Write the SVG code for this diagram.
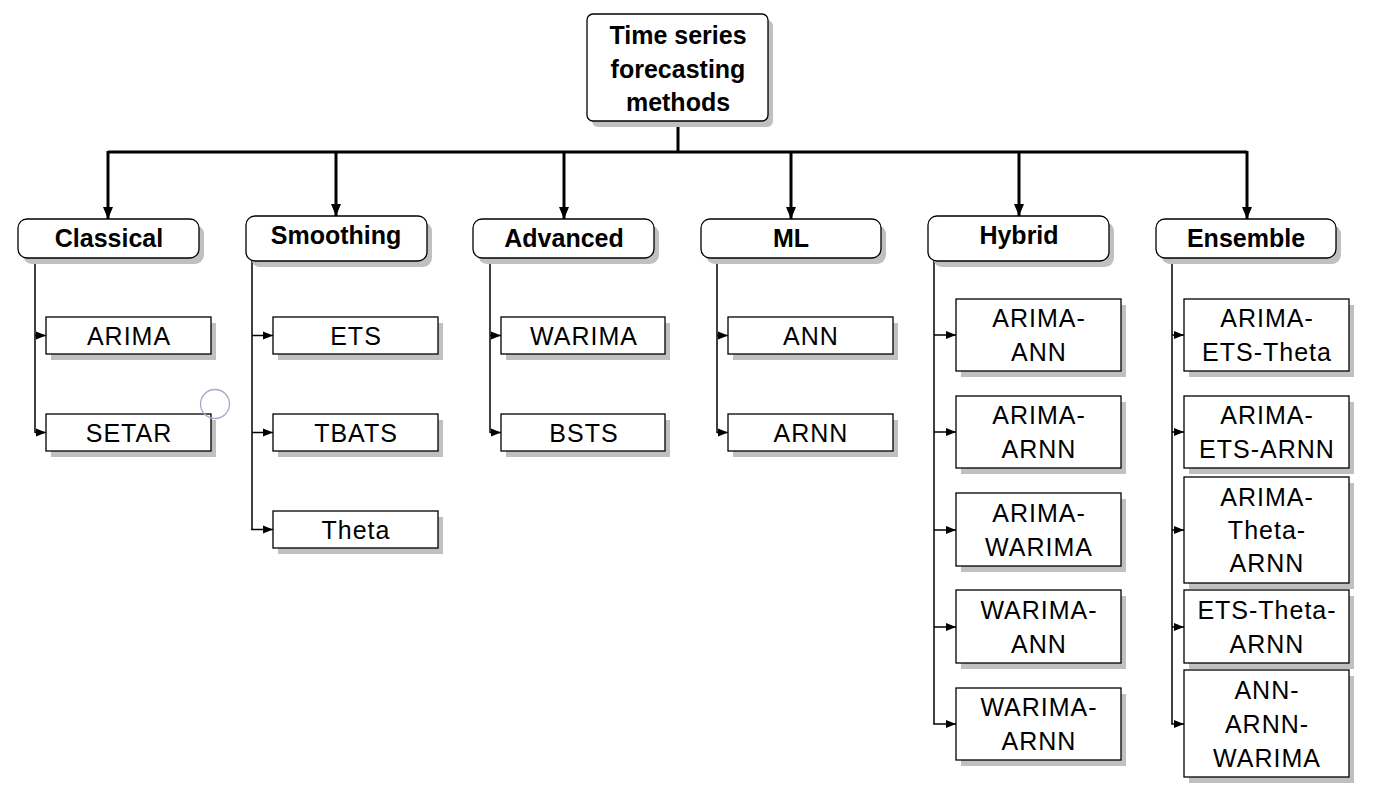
<svg xmlns="http://www.w3.org/2000/svg" width="1381" height="799" viewBox="0 0 1381 799">
<defs>
<style>
.sh{fill:#c0c0c0;stroke:none}
.bx{fill:#fff;stroke:#000;stroke-width:1.3}
.hd{font-family:"Liberation Sans","DejaVu Sans",sans-serif;font-weight:bold;font-size:25px;text-anchor:middle;fill:#000}
.lf{font-family:"Liberation Sans","DejaVu Sans",sans-serif;font-size:25px;letter-spacing:1px;text-anchor:middle;fill:#000}
.tr{stroke:#000;stroke-width:3;fill:none}
.br{stroke:#000;stroke-width:1.5;fill:none}
</style>
<marker id="big" markerUnits="userSpaceOnUse" markerWidth="12" markerHeight="12" refX="12" refY="6" orient="auto">
<path d="M0,1 L12,6 L0,11 Z" fill="#000"/>
</marker>
<marker id="sm" markerUnits="userSpaceOnUse" markerWidth="10" markerHeight="10" refX="10" refY="5" orient="auto">
<path d="M0,1 L10,5 L0,9 Z" fill="#000"/>
</marker>
</defs>
<rect width="1381" height="799" fill="#fff"/>

<g id="connectors">
<path class="tr" d="M678,121 V152 M108,152 H1247"/>
<path class="tr" d="M108,151 V219" marker-end="url(#big)"/>
<path class="tr" d="M336,151 V216" marker-end="url(#big)"/>
<path class="tr" d="M564,151 V219" marker-end="url(#big)"/>
<path class="tr" d="M791,151 V219" marker-end="url(#big)"/>
<path class="tr" d="M1019,151 V216" marker-end="url(#big)"/>
<path class="tr" d="M1247,151 V219" marker-end="url(#big)"/>
<path class="br" d="M35,258 V433"/>
<path class="br" d="M35,335.5 H46" marker-end="url(#sm)"/>
<path class="br" d="M35,432.5 H46" marker-end="url(#sm)"/>
<path class="br" d="M252,261 V530"/>
<path class="br" d="M252,335.5 H273" marker-end="url(#sm)"/>
<path class="br" d="M252,432.5 H273" marker-end="url(#sm)"/>
<path class="br" d="M251.3,529.5 H273" marker-end="url(#sm)"/>
<path class="br" d="M490,258 V433"/>
<path class="br" d="M490,335.5 H501" marker-end="url(#sm)"/>
<path class="br" d="M490,432.5 H501" marker-end="url(#sm)"/>
<path class="br" d="M717,258 V433"/>
<path class="br" d="M717,335.5 H728" marker-end="url(#sm)"/>
<path class="br" d="M717,432.5 H728" marker-end="url(#sm)"/>
<path class="br" d="M934,261 V724"/>
<path class="br" d="M934,335 H956" marker-end="url(#sm)"/>
<path class="br" d="M934,432 H956" marker-end="url(#sm)"/>
<path class="br" d="M934,530 H956" marker-end="url(#sm)"/>
<path class="br" d="M934,627 H956" marker-end="url(#sm)"/>
<path class="br" d="M933.3,724 H956" marker-end="url(#sm)"/>
<path class="br" d="M1172,258 V724"/>
<path class="br" d="M1172,335 H1184" marker-end="url(#sm)"/>
<path class="br" d="M1172,432 H1184" marker-end="url(#sm)"/>
<path class="br" d="M1172,530 H1184" marker-end="url(#sm)"/>
<path class="br" d="M1172,627 H1184" marker-end="url(#sm)"/>
<path class="br" d="M1171.3,724 H1184" marker-end="url(#sm)"/>
</g>

<g id="root">
<rect class="sh" x="592" y="20" width="181" height="107" rx="6"/>
<rect class="bx" x="587" y="14" width="181" height="107" rx="6"/>
<text class="hd" x="678" y="44">Time series</text>
<text class="hd" x="678" y="78">forecasting</text>
<text class="hd" x="678" y="111">methods</text>
</g>

<g id="h-classical">
<rect class="sh" x="23" y="225" width="181" height="39" rx="9"/>
<rect class="bx" x="18" y="219" width="181" height="39" rx="9"/>
<text class="hd" x="109" y="247">Classical</text>
</g>
<g id="h-smoothing">
<rect class="sh" x="251" y="222" width="181" height="45" rx="9"/>
<rect class="bx" x="246" y="216" width="181" height="45" rx="9"/>
<text class="hd" x="336" y="244">Smoothing</text>
</g>
<g id="h-advanced">
<rect class="sh" x="478" y="225" width="181" height="39" rx="9"/>
<rect class="bx" x="473" y="219" width="181" height="39" rx="9"/>
<text class="hd" x="564" y="247">Advanced</text>
</g>
<g id="h-ml">
<rect class="sh" x="706" y="225" width="180" height="39" rx="9"/>
<rect class="bx" x="701" y="219" width="180" height="39" rx="9"/>
<text class="hd" x="791" y="247">ML</text>
</g>
<g id="h-hybrid">
<rect class="sh" x="933" y="222" width="181" height="45" rx="9"/>
<rect class="bx" x="928" y="216" width="181" height="45" rx="9"/>
<text class="hd" x="1019" y="244">Hybrid</text>
</g>
<g id="h-ensemble">
<rect class="sh" x="1161" y="225" width="180" height="39" rx="9"/>
<rect class="bx" x="1156" y="219" width="180" height="39" rx="9"/>
<text class="hd" x="1246" y="247">Ensemble</text>
</g>

<g id="n-arima"><rect class="sh" x="51" y="323" width="165" height="37"/><rect class="bx" x="46" y="317" width="165" height="37"/><text class="lf" x="129" y="345">ARIMA</text></g>
<g id="n-setar"><rect class="sh" x="51" y="420" width="165" height="37"/><rect class="bx" x="46" y="414" width="165" height="37"/><text class="lf" x="129" y="442">SETAR</text></g>
<g id="n-ets"><rect class="sh" x="278" y="323" width="165" height="37"/><rect class="bx" x="273" y="317" width="165" height="37"/><text class="lf" x="356" y="345">ETS</text></g>
<g id="n-tbats"><rect class="sh" x="278" y="420" width="165" height="37"/><rect class="bx" x="273" y="414" width="165" height="37"/><text class="lf" x="356" y="442">TBATS</text></g>
<g id="n-theta"><rect class="sh" x="278" y="517" width="165" height="37"/><rect class="bx" x="273" y="511" width="165" height="37"/><text class="lf" x="356" y="539">Theta</text></g>
<g id="n-warima"><rect class="sh" x="506" y="323" width="164" height="37"/><rect class="bx" x="501" y="317" width="164" height="37"/><text class="lf" x="584" y="345">WARIMA</text></g>
<g id="n-bsts"><rect class="sh" x="506" y="420" width="164" height="37"/><rect class="bx" x="501" y="414" width="164" height="37"/><text class="lf" x="584" y="442">BSTS</text></g>
<g id="n-ann"><rect class="sh" x="733" y="323" width="165" height="37"/><rect class="bx" x="728" y="317" width="165" height="37"/><text class="lf" x="811" y="345">ANN</text></g>
<g id="n-arnn"><rect class="sh" x="733" y="420" width="165" height="37"/><rect class="bx" x="728" y="414" width="165" height="37"/><text class="lf" x="811" y="442">ARNN</text></g>

<g id="n-arima-ann"><rect class="sh" x="961" y="305" width="165" height="72"/><rect class="bx" x="956" y="299" width="165" height="72"/><text class="lf" x="1039" y="327">ARIMA-</text><text class="lf" x="1039" y="361">ANN</text></g>
<g id="n-arima-arnn"><rect class="sh" x="961" y="402" width="165" height="72"/><rect class="bx" x="956" y="396" width="165" height="72"/><text class="lf" x="1039" y="424">ARIMA-</text><text class="lf" x="1039" y="458">ARNN</text></g>
<g id="n-arima-warima"><rect class="sh" x="961" y="499" width="165" height="73"/><rect class="bx" x="956" y="493" width="165" height="73"/><text class="lf" x="1039" y="522">ARIMA-</text><text class="lf" x="1039" y="556">WARIMA</text></g>
<g id="n-warima-ann"><rect class="sh" x="961" y="596" width="165" height="73"/><rect class="bx" x="956" y="590" width="165" height="73"/><text class="lf" x="1039" y="619">WARIMA-</text><text class="lf" x="1039" y="653">ANN</text></g>
<g id="n-warima-arnn"><rect class="sh" x="961" y="694" width="165" height="72"/><rect class="bx" x="956" y="688" width="165" height="72"/><text class="lf" x="1039" y="716">WARIMA-</text><text class="lf" x="1039" y="750">ARNN</text></g>

<g id="n-arima-ets-theta"><rect class="sh" x="1189" y="305" width="165" height="72"/><rect class="bx" x="1184" y="299" width="165" height="72"/><text class="lf" x="1267" y="327">ARIMA-</text><text class="lf" x="1267" y="361">ETS-Theta</text></g>
<g id="n-arima-ets-arnn"><rect class="sh" x="1189" y="402" width="165" height="72"/><rect class="bx" x="1184" y="396" width="165" height="72"/><text class="lf" x="1267" y="424">ARIMA-</text><text class="lf" x="1267" y="458">ETS-ARNN</text></g>
<g id="n-arima-theta-arnn"><rect class="sh" x="1189" y="483" width="165" height="106"/><rect class="bx" x="1184" y="477" width="165" height="106"/><text class="lf" x="1267" y="506">ARIMA-</text><text class="lf" x="1267" y="539">Theta-</text><text class="lf" x="1267" y="572">ARNN</text></g>
<g id="n-ets-theta-arnn"><rect class="sh" x="1189" y="596" width="165" height="73"/><rect class="bx" x="1184" y="590" width="165" height="73"/><text class="lf" x="1267" y="619">ETS-Theta-</text><text class="lf" x="1267" y="653">ARNN</text></g>
<g id="n-ann-arnn-warima"><rect class="sh" x="1189" y="676" width="165" height="107"/><rect class="bx" x="1184" y="670" width="165" height="107"/><text class="lf" x="1267" y="699">ANN-</text><text class="lf" x="1267" y="733">ARNN-</text><text class="lf" x="1267" y="767">WARIMA</text></g>

<circle cx="215" cy="404" r="14.5" fill="none" stroke="#a8a8c8" stroke-width="1.3"/>
</svg>
